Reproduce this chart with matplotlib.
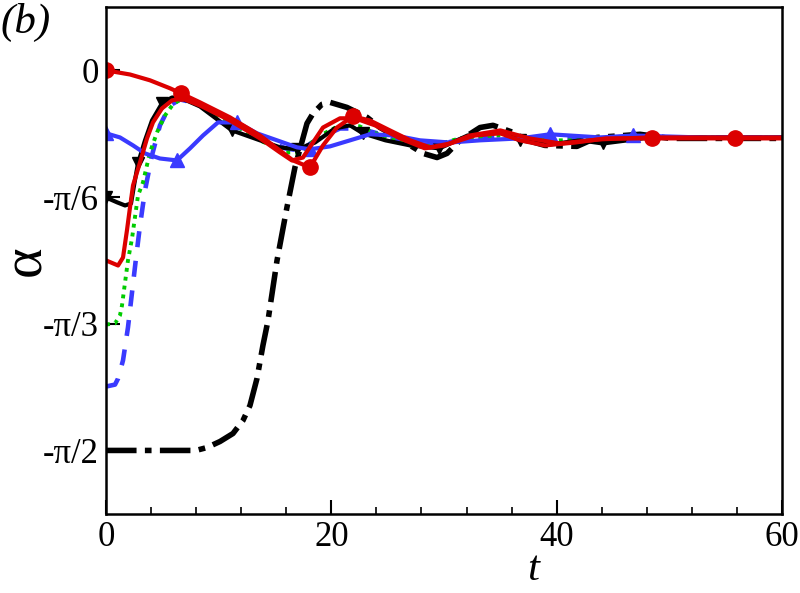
import numpy as np
import matplotlib
matplotlib.use("Agg")
import matplotlib.pyplot as plt

plt.rcParams['font.family'] = ['Liberation Serif', 'DejaVu Serif']

# alpha0 = 0, red solid with circles
t_a = [0, 2.13, 3.9, 5.68, 6.66, 8.34, 11.0, 13.67, 15.44, 16.6, 18.1, 19.26, 20.5,
       21.92, 23.43, 25.2, 27.0, 28.76, 30.53, 32.75, 34.97, 36.74, 38.96, 41.63,
       44.38, 48.5, 55.8, 60]
al_a = [0, -0.017, -0.041, -0.074, -0.095, -0.132, -0.194, -0.269, -0.331, -0.372,
        -0.401, -0.31, -0.236, -0.190, -0.207, -0.248, -0.289, -0.318, -0.302, -0.269,
        -0.26, -0.289, -0.31, -0.298, -0.281, -0.281, -0.281, -0.281]
mk_a = [0, 4, 10, 13, 25, 26]

# alpha0 = -pi/12, blue solid with triangles
t_b = [0, 1.24, 2.40, 3.46, 4.79, 6.30, 7.46, 8.61, 9.94, 11.63, 13.40, 15.18, 16.95,
       18.11, 19.88, 21.66, 23.43, 25.65, 27.87, 30.53, 33.19, 36.74, 39.41, 43.85,
       46.78, 52.72, 60]
al_b = [-0.260, -0.277, -0.310, -0.343, -0.364, -0.372, -0.322, -0.269, -0.215, -0.215,
        -0.260, -0.289, -0.318, -0.326, -0.314, -0.289, -0.264, -0.269, -0.289, -0.298,
        -0.289, -0.281, -0.264, -0.277, -0.269, -0.277, -0.277]
mk_b = [0, 5, 9, 13, 22, 24]

# alpha0 = -pi/6, black solid with down triangles
t_c = [0, 0.98, 1.69, 2.22, 2.49, 2.84, 3.46, 4.08, 4.97, 5.86, 6.75, 8.34, 11.18,
       13.67, 15.44, 16.95, 18.55, 20.3, 21.66, 22.8, 24.8, 27.0, 29.6, 32.1, 35.0,
       36.74, 39.4, 42.1, 44.1, 48.3, 60]
al_c = [-0.525, -0.545, -0.558, -0.55, -0.475, -0.384, -0.289, -0.207, -0.136, -0.112,
        -0.116, -0.149, -0.248, -0.289, -0.318, -0.326, -0.298, -0.240, -0.227, -0.260,
        -0.289, -0.31, -0.322, -0.269, -0.256, -0.289, -0.306, -0.289, -0.302, -0.277,
        -0.277]
mk_c = [0, 5, 8, 12, 15, 19, 22, 25, 28]

# alpha0 = -pi/4, red solid
t_d = [0, 1.07, 1.51, 1.86, 2.13, 2.40, 3.02, 3.64, 4.17, 4.97, 5.86, 6.75, 8.34, 11.0,
       13.67, 15.44, 16.5, 17.48, 19.26, 20.77, 22.1, 23.87, 26.1, 28.3, 30.1, 32.3,
       35.0, 37.6, 40.3, 43.8, 48.3, 60]
al_d = [-0.785, -0.806, -0.773, -0.661, -0.566, -0.475, -0.380, -0.281, -0.215, -0.157,
        -0.124, -0.116, -0.145, -0.207, -0.281, -0.339, -0.372, -0.36, -0.236, -0.198,
        -0.198, -0.227, -0.281, -0.322, -0.31, -0.269, -0.248, -0.281, -0.302, -0.285,
        -0.277, -0.277]

# alpha0 = -pi/3, green dotted
t_e = [0, 0.8, 1.24, 1.42, 1.69, 1.95, 2.31, 2.57, 2.84, 3.28, 3.9, 4.53, 5.24, 5.95,
       6.75, 8.34, 11.0, 13.67, 15.9, 17.2, 19.0, 20.77, 22.5, 24.8, 27.0, 28.8, 31.4,
       35.0, 38.5, 42.1, 48.3, 60]
al_e = [-1.05, -1.045, -1.012, -0.971, -0.876, -0.785, -0.694, -0.607, -0.517, -0.463,
        -0.339, -0.256, -0.186, -0.140, -0.116, -0.145, -0.215, -0.289, -0.339, -0.339,
        -0.269, -0.227, -0.231, -0.277, -0.31, -0.314, -0.281, -0.269, -0.289, -0.289,
        -0.277, -0.277]

# alpha0 = -5pi/12, blue dashed
t_f = [0, 0.8, 1.07, 1.51, 1.95, 2.31, 2.66, 3.02, 3.46, 4.08, 4.79, 5.68, 6.57, 8.34,
       11.0, 13.67, 15.9, 17.2, 19.0, 20.77, 22.5, 24.8, 27.0, 29.2, 31.9, 35.0, 38.5,
       42.1, 48.3, 60]
al_f = [-1.306, -1.298, -1.273, -1.198, -1.062, -0.917, -0.777, -0.640, -0.496, -0.351,
        -0.227, -0.145, -0.12, -0.14, -0.207, -0.277, -0.322, -0.331, -0.277, -0.24,
        -0.24, -0.269, -0.302, -0.31, -0.281, -0.269, -0.281, -0.285, -0.277, -0.277]

# alpha0 = -pi/2, black dash-dot
t_g = [0, 7.99, 8.96, 10.12, 11.27, 12.16, 12.78, 13.4, 13.93, 14.38, 15.18, 16.06,
       16.77, 17.84, 18.37, 19.17, 19.88, 21.39, 23.17, 24.32, 25.21, 26.72, 28.14,
       29.38, 30.27, 31.42, 33.2, 34.35, 36.12, 37.37, 38.96, 41.8, 43.58, 47.4, 50.06, 60]
al_g = [-1.570, -1.570, -1.558, -1.533, -1.500, -1.446, -1.384, -1.273, -1.136, -1.033,
        -0.785, -0.566, -0.401, -0.219, -0.178, -0.140, -0.132, -0.153, -0.194, -0.236,
        -0.260, -0.302, -0.343, -0.360, -0.343, -0.289, -0.236, -0.227, -0.256, -0.289,
        -0.310, -0.314, -0.277, -0.264, -0.281, -0.281]

yticks = [0, -np.pi / 6, -np.pi / 3, -np.pi / 2]
ytick_labels = ['0', '-π/6', '-π/3', '-π/2']
xticks = [0, 20, 40, 60]

red = '#dc0000'
blue = '#3a3aff'
green = '#00cc00'

fig = plt.figure(figsize=(8, 5.93), dpi=100)
ax = fig.add_axes([0.1325, 0.1332, 0.845, 0.855])

ax.plot(t_g, al_g, color='black', lw=4.0, dashes=(5.5, 1.5, 1.2, 1.5))
ax.plot(t_f, al_f, color=blue, lw=3.3, dashes=(3.5, 3.0))
ax.plot(t_e, al_e, color=green, lw=2.8, dashes=(1, 1.3))
ax.plot(t_c, al_c, color='black', lw=3.0, marker='v', ms=9, markevery=mk_c)
ax.plot(t_b, al_b, color=blue, lw=3.0, marker='^', ms=10, markevery=mk_b)
ax.plot(t_d, al_d, color=red, lw=3.0)
ax.plot(t_a, al_a, color=red, lw=3.0, marker='o', ms=11, markevery=mk_a)

ax.set_xlim(0, 60)
ax.set_ylim(-7 * np.pi / 12, np.pi / 12)
ax.set_xticks(xticks)
ax.set_xticks(np.arange(0, 61, 4), minor=True)
ax.set_yticks(yticks)
ax.set_yticklabels(ytick_labels)
ax.tick_params(axis='both', which='major', direction='in', length=10, width=1.5,
               labelsize=25, top=False, right=False)
ax.tick_params(axis='x', which='major', pad=5)
ax.tick_params(axis='y', which='major', pad=5)
ax.tick_params(axis='x', which='minor', direction='in', length=5, width=1.2, top=False)
for s in ax.spines.values():
    s.set_linewidth(1.8)

ax.set_xlabel('t', fontsize=31, fontstyle='italic')
ax.xaxis.set_label_coords(0.632, -0.072)
ax.set_ylabel('α', fontsize=42)
ax.yaxis.set_label_coords(-0.08, 0.5)

fig.text(0.0, 0.995, '(b)', fontsize=31, fontstyle='italic', ha='left', va='top')

fig.savefig('out.png', dpi=100)
